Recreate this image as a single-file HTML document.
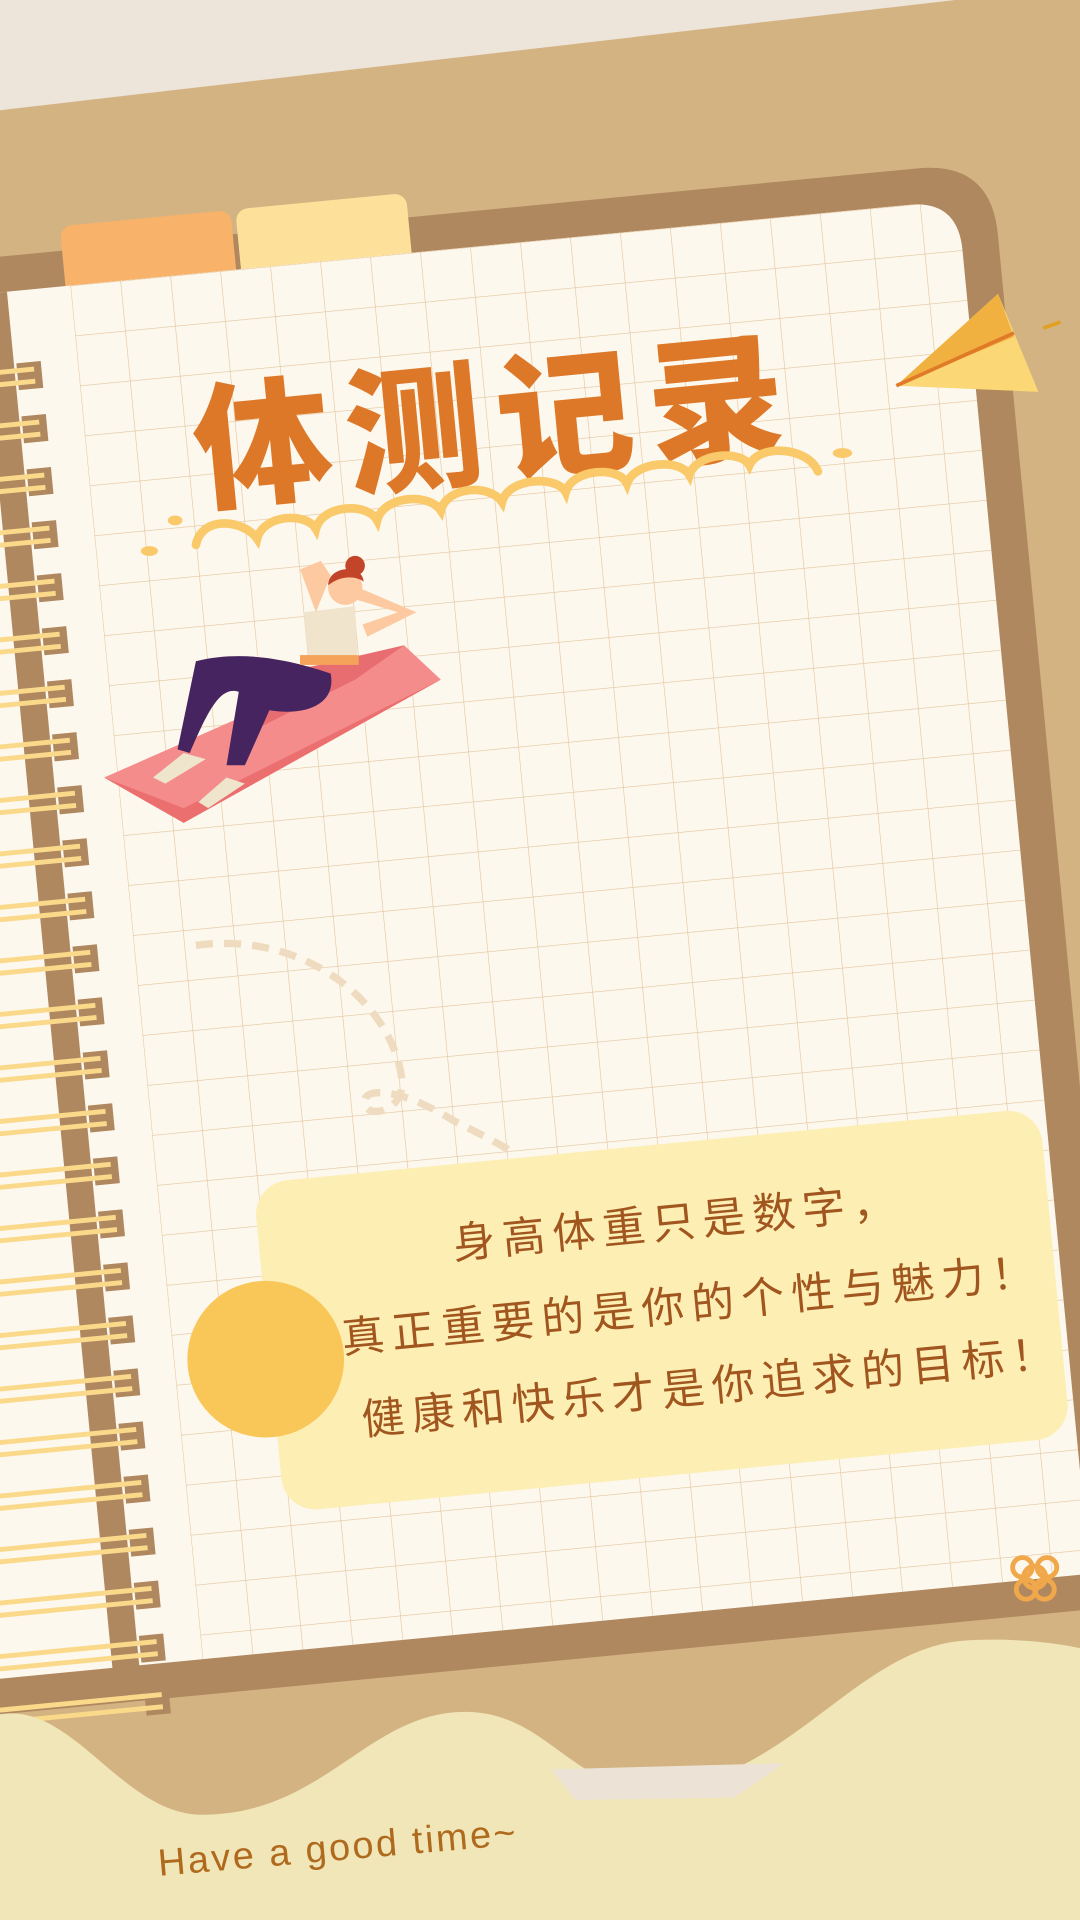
<!DOCTYPE html>
<html><head><meta charset="utf-8"><style>
html,body{margin:0;padding:0;width:1080px;height:1920px;overflow:hidden;background:#d4b383}
svg{display:block}
</style></head><body>
<svg width="1080" height="1920" viewBox="0 0 882 1568" preserveAspectRatio="none" xmlns="http://www.w3.org/2000/svg">
<defs>
<pattern id="grid" x="112" y="199" width="41" height="41" patternUnits="userSpaceOnUse">
<path d="M0 0H41M0 0V41" stroke="#e2c49c" stroke-width="1" fill="none"/>
</pattern>
<clipPath id="pageclip"><path d="M-100 199 H800 Q840 199 840 240 V1326 H-100 Z"/></clipPath>
</defs>
<rect width="882" height="1568" fill="#d4b383"/>
<polygon points="0,0 780,0 0,90" fill="#ede5da"/>
<g transform="rotate(-5.5 441 784)">
<path d="M-120 170 H810 Q870 170 870 230 V1355 H-120 Z" fill="#b08860"/>
<rect x="108" y="150" width="140" height="70" rx="10" fill="#f8b26a"/>
<rect x="252" y="150" width="140" height="70" rx="10" fill="#fde19a"/>
<path d="M-100 199 H800 Q840 199 840 240 V1326 H-100 Z" fill="#fdf8ee"/>
<rect x="112" y="199" width="728" height="1127" fill="url(#grid)" clip-path="url(#pageclip)"/>
<rect x="38" y="199" width="22" height="1140" fill="#b08860"/>
<g id="rings"></g>
</g>
<path d="M0,1400 C60,1390 100,1482 165,1482 C265,1482 300,1398 380,1398 C450,1398 470,1470 545,1460 C645,1450 700,1348 785,1340 C840,1336 882,1346 882,1346 L882,1568 L0,1568 Z" fill="#f0e6b8"/>
<polygon points="450,1445 640,1440 600,1468 470,1470" fill="#ece3d6"/>
<text x="405" y="385" text-anchor="middle" transform="rotate(-5.5 405 340)" font-family="'Liberation Sans','Noto Sans CJK SC',sans-serif" font-weight="900" font-size="112" letter-spacing="12" fill="#dd7828">体测记录</text>
<path d="M160,445 C165,420 200,425 210,440 C215,420 250,418 258,432 C263,412 300,410 308,425 C313,405 350,402 360,417 C365,397 400,395 410,410 C415,390 455,388 462,402 C467,383 505,380 512,395 C518,377 555,374 563,388 C568,370 605,367 612,380 C620,362 660,365 668,385" fill="none" stroke="#f9c96a" stroke-width="7" stroke-linecap="round"/>
<ellipse cx="122" cy="450" rx="7" ry="4" fill="#f9c96a"/><ellipse cx="143" cy="425" rx="6" ry="4" fill="#f9c96a"/><ellipse cx="688" cy="370" rx="8" ry="4" fill="#f9c96a"/>
<g>
<polygon points="732,315 815,240 848,320" fill="#fbd775"/>
<polygon points="732,315 815,240 828,275" fill="#f0b140"/>
<line x1="732" y1="315" x2="828" y2="272" stroke="#e07a28" stroke-width="3"/>
<line x1="852" y1="268" x2="866" y2="263" stroke="#e0a020" stroke-width="3"/>
</g>
<g>
<polygon points="85,635 330,527 360,555 150,672" fill="#f58c8c"/>
<polygon points="85,635 150,660 360,555 150,672" fill="#ec6f70"/>
<polygon points="200,600 290,555 330,527 230,550" fill="#e86d70"/>
<path d="M160,540 C200,530 240,540 270,550 C275,575 250,585 220,580 L200,625 L185,625 L195,565 C180,560 170,580 155,615 L145,612 Z" fill="#46245f"/>
<path d="M125,635 L150,615 L168,620 L135,640 Z" fill="#efe4cc"/>
<path d="M162,655 L185,635 L200,640 L170,660 Z" fill="#efe4cc"/>
<path d="M248,500 L290,495 L292,540 L252,540 Z" fill="#f0e4cc"/>
<rect x="245" y="535" width="48" height="8" fill="#f5a25a"/>
<circle cx="282" cy="480" r="14" fill="#fdc9a0"/>
<circle cx="290" cy="462" r="8" fill="#c2452a"/>
<path d="M268,478 C268,462 296,460 297,475 C290,470 278,470 268,478Z" fill="#c2452a"/>
<path d="M258,500 L245,465 L262,458 L270,470 Z" fill="#fdc9a0"/>
<path d="M293,480 L340,500 L300,520 L296,510 L325,500 L292,490Z" fill="#fdc9a0"/>
</g>
<path d="M160,772 C250,760 320,820 328,880 C332,910 295,915 298,898 C300,888 330,890 370,915 C390,925 410,935 420,942" fill="none" stroke="#efdcc0" stroke-width="6" stroke-dasharray="14 9"/>
<g transform="rotate(-5.5 540 1070)">
<rect x="218" y="935" width="645" height="270" rx="28" fill="#fdeeb4"/>
<g font-family="'Liberation Sans','Noto Sans CJK SC',sans-serif" font-size="35" fill="#a0561e" text-anchor="middle" letter-spacing="6">
<text x="560" y="1012">身高体重只是数字，</text>
<text x="565" y="1080">真正重要的是你的个性与魅力！</text>
<text x="575" y="1148">健康和快乐才是你追求的目标！</text>
</g>
</g>
<circle cx="217" cy="1110" r="64" fill="#f9c658"/>
<g fill="none" stroke="#f0a84a" stroke-width="4">
<circle cx="845" cy="1288" r="9"/><circle cx="835" cy="1280" r="8"/><circle cx="855" cy="1280" r="8"/><circle cx="838" cy="1298" r="8"/><circle cx="853" cy="1298" r="8"/>
</g>
<text x="130" y="1532" transform="rotate(-5 130 1532)" font-family="'Liberation Sans',sans-serif" font-size="31" letter-spacing="2" fill="#b06a1e">Have a good time~</text>
</svg>
<script>
var g=document.getElementById('rings');
var ns='http://www.w3.org/2000/svg';
for(var i=0;i<26;i++){
  var y=262+i*43.5;
  var b1=document.createElementNS(ns,'rect');
  
  
  b1.setAttribute('x',-60);b1.setAttribute('y',y);b1.setAttribute('width',140);b1.setAttribute('height',4);b1.setAttribute('fill','#fbd98a');
  g.appendChild(b1);
  var b2=document.createElementNS(ns,'rect');
  
  
  b2.setAttribute('x',-60);b2.setAttribute('y',y+10);b2.setAttribute('width',140);b2.setAttribute('height',4);b2.setAttribute('fill','#fbd98a');
  g.appendChild(b2);
  var h=document.createElementNS(ns,'rect');
  
  
  h.setAttribute('x',62);h.setAttribute('y',y-4);h.setAttribute('width',20);h.setAttribute('height',22);h.setAttribute('fill','#b08860');
  g.appendChild(h);
  var c=document.createElementNS(ns,'rect');
  
  
  c.setAttribute('x',58);c.setAttribute('y',y);c.setAttribute('width',18);c.setAttribute('height',4);c.setAttribute('fill','#fbd98a');
  g.appendChild(c);
  var c2=document.createElementNS(ns,'rect');
  
  
  c2.setAttribute('x',58);c2.setAttribute('y',y+10);c2.setAttribute('width',18);c2.setAttribute('height',4);c2.setAttribute('fill','#fbd98a');
  g.appendChild(c2);
}
</script>
</body></html>
